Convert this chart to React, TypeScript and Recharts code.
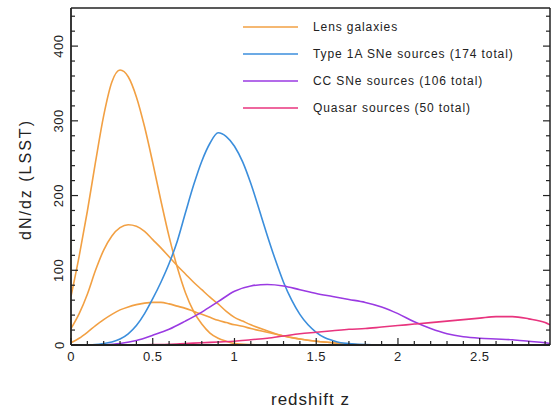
import { Legend, Line, LineChart, XAxis, YAxis } from "recharts";

// redshift grid + dN/dz values
const lensTallZ = [0, 0.05, 0.1, 0.15, 0.2, 0.25, 0.3, 0.35, 0.4, 0.45, 0.5, 0.55, 0.6, 0.65, 0.7, 0.75, 0.8, 0.85, 0.9, 0.95, 1.0, 1.1, 1.2];
const lensTallN = [65, 119, 179, 245, 307, 352, 368, 359, 332, 292, 244, 193, 145, 104, 70, 45, 28, 16, 9, 5, 2, 0.5, 0];

const lensZ = [0, 0.05, 0.1, 0.15, 0.2, 0.25, 0.3, 0.35, 0.4, 0.45, 0.5, 0.55, 0.6, 0.65, 0.7, 0.75, 0.8, 0.85, 0.9, 0.95, 1.0, 1.05, 1.1, 1.2, 1.3, 1.4, 1.5, 1.6, 1.7, 1.8];
const lensMidN = [22, 42, 68, 100, 127, 146, 157, 161, 159, 152, 141, 130, 118, 106, 95, 84, 74, 64, 55, 45, 37, 32, 27, 19, 12, 8, 5, 3, 1, 0];
const lensLowN = [3, 9, 17, 26, 34, 41, 47, 51, 54, 56, 57, 57, 55, 52, 49, 45, 41, 37, 33, 30, 27, 25, 22, 17, 12, 8, 5, 3, 1, 0];

const snIaZ = [0.1, 0.15, 0.2, 0.25, 0.3, 0.35, 0.4, 0.45, 0.5, 0.55, 0.6, 0.65, 0.7, 0.75, 0.8, 0.85, 0.9, 0.95, 1.0, 1.05, 1.1, 1.15, 1.2, 1.25, 1.3, 1.35, 1.4, 1.45, 1.5, 1.55, 1.6, 1.65, 1.7, 1.8, 1.9];
const snIaN = [0, 0.5, 2, 4, 8, 15, 26, 42, 62, 84, 109, 139, 177, 214, 246, 270, 284, 279, 266, 245, 216, 182, 147, 114, 84, 60, 41, 27, 17, 10, 6, 3, 2, 0.5, 0];

const ccZ = [0.2, 0.3, 0.4, 0.5, 0.6, 0.7, 0.8, 0.9, 1.0, 1.1, 1.2, 1.3, 1.4, 1.5, 1.6, 1.7, 1.8, 1.9, 2.0, 2.1, 2.2, 2.3, 2.4, 2.5, 2.6, 2.7, 2.8, 2.9, 2.93];
const ccN = [0, 2, 6, 13, 21, 32, 44, 58, 72, 79, 81, 79, 74, 69, 65, 61, 57, 51, 42, 31, 22, 15, 11, 9, 8, 7, 5, 3, 2];

const qsoZ = [0.4, 0.5, 0.6, 0.7, 0.8, 0.9, 1.0, 1.1, 1.2, 1.3, 1.4, 1.5, 1.6, 1.7, 1.8, 1.9, 2.0, 2.1, 2.2, 2.3, 2.4, 2.5, 2.6, 2.7, 2.8, 2.9, 2.93];
const qsoN = [0, 0.5, 1, 2, 3, 4, 5, 7, 9, 12, 15, 17, 19, 21, 22, 24, 26, 28, 30, 32, 34, 36, 38, 38, 35, 30, 27];

const xTicks = [0, 0.1, 0.2, 0.3, 0.4, 0.5, 0.6, 0.7, 0.8, 0.9, 1, 1.1, 1.2, 1.3, 1.4, 1.5, 1.6, 1.7, 1.8, 1.9, 2, 2.1, 2.2, 2.3, 2.4, 2.5, 2.6, 2.7, 2.8, 2.9];
const yTicks = [0, 20, 40, 60, 80, 100, 120, 140, 160, 180, 200, 220, 240, 260, 280, 300, 320, 340, 360, 380, 400, 420, 440];

const legendOrder = ["Lens galaxies", "Type 1A SNe sources (174 total)", "CC SNe sources (106 total)", "Quasar sources (50 total)"];

const X_MAX = 2.93;
const Y_MAX = 451;
const INK = "#222";
const FONT = "'Liberation Sans', Arial, Helvetica, sans-serif";

const pts = (zs: number[], ns: number[]) => zs.map((z, i) => ({ z, n: ns[i] }));

const isMajor = (v: number, step: number) => Math.abs(v / step - Math.round(v / step)) < 1e-6;

const BottomTick = ({ x, y, payload }: any) => {
    const major = isMajor(payload.value, 0.5);
    return (
        <g>
            <line x1={x} x2={x} y1={y} y2={y - (major ? 7 : 4)} stroke={INK} strokeWidth={1.2} />
            {major && (
                <text x={x} y={y + 11} textAnchor="middle" dominantBaseline="central" fontSize={13} fill={INK} fontFamily={FONT} letterSpacing={0.5}>
                    {String(payload.value)}
                </text>
            )}
        </g>
    );
};

const TopTick = ({ x, y, payload }: any) => {
    const major = isMajor(payload.value, 0.5);
    return <line x1={x} x2={x} y1={y} y2={y + (major ? 7 : 4)} stroke={INK} strokeWidth={1.2} />;
};

const LeftTick = ({ x, y, payload }: any) => {
    const major = isMajor(payload.value, 100);
    const tx = x - 12;
    return (
        <g>
            <line x1={x} x2={x + (major ? 7 : 4)} y1={y} y2={y} stroke={INK} strokeWidth={1.2} />
            {major && (
                <text x={tx} y={y} transform={`rotate(-90 ${tx} ${y})`} textAnchor="middle" dominantBaseline="central" fontSize={13} fill={INK} fontFamily={FONT} letterSpacing={0.5}>
                    {String(payload.value)}
                </text>
            )}
        </g>
    );
};

const RightTick = ({ x, y, payload }: any) => {
    const major = isMajor(payload.value, 100);
    return <line x1={x} x2={x - (major ? 7 : 4)} y1={y} y2={y} stroke={INK} strokeWidth={1.2} />;
};

const XLabel = ({ viewBox }: any) => (
    <text x={viewBox.x + viewBox.width / 2} y={viewBox.y + 54} textAnchor="middle" dominantBaseline="central" fontSize={17} fill={INK} fontFamily={FONT} letterSpacing={1}>
        redshift z
    </text>
);

const YLabel = ({ viewBox }: any) => {
    const cx = viewBox.x - 6;
    const cy = viewBox.y + viewBox.height / 2 + 3;
    return (
        <text x={cx} y={cy} transform={`rotate(-90 ${cx} ${cy})`} textAnchor="middle" dominantBaseline="central" fontSize={16} fill={INK} fontFamily={FONT} letterSpacing={2}>
            dN/dz (LSST)
        </text>
    );
};

const LegendBox = ({ payload }: any) => (
    <div style={{ fontFamily: FONT }}>
        {(payload ?? [])
            .filter((p: any) => p.type !== "none" && legendOrder.includes(p.value))
            .sort((a: any, b: any) => legendOrder.indexOf(a.value) - legendOrder.indexOf(b.value))
            .map((p: any) => (
                <div key={p.value} style={{ display: "flex", alignItems: "center", height: 27 }}>
                    <svg width={55} height={4} style={{ display: "block" }}>
                        <line x1={0} x2={55} y1={2} y2={2} stroke={p.color} strokeWidth={1.6} />
                    </svg>
                    <span style={{ marginLeft: 15, fontSize: 12, color: INK, letterSpacing: 0.9, whiteSpace: "nowrap" }}>{p.value}</span>
                </div>
            ))}
    </div>
);

export default function App() {
    return (
        <div style={{ position: "absolute", left: 0, top: 0, width: 560, height: 408, background: "#fff" }}>
            <LineChart width={560} height={408} margin={{ top: 7, right: 9, left: 31, bottom: 33 }}>
                <XAxis
                    dataKey="z"
                    type="number"
                    domain={[0, X_MAX]}
                    allowDataOverflow
                    ticks={xTicks}
                    interval={0}
                    tickSize={0}
                    tickMargin={0}
                    tick={<BottomTick />}
                    height={30}
                    axisLine={{ stroke: INK, strokeWidth: 1.8 }}
                    label={<XLabel />}
                />
                <XAxis
                    xAxisId="top"
                    orientation="top"
                    type="number"
                    domain={[0, X_MAX]}
                    allowDataOverflow
                    ticks={xTicks}
                    interval={0}
                    tickSize={0}
                    tickMargin={0}
                    tick={<TopTick />}
                    height={1}
                    axisLine={{ stroke: INK, strokeWidth: 1.5 }}
                />
                <YAxis
                    type="number"
                    domain={[0, Y_MAX]}
                    allowDataOverflow
                    ticks={yTicks}
                    interval={0}
                    tickSize={0}
                    tickMargin={0}
                    tick={<LeftTick />}
                    width={40}
                    axisLine={{ stroke: INK, strokeWidth: 1.8 }}
                    label={<YLabel />}
                />
                <YAxis
                    yAxisId="right"
                    orientation="right"
                    type="number"
                    domain={[0, Y_MAX]}
                    allowDataOverflow
                    ticks={yTicks}
                    interval={0}
                    tickSize={0}
                    tickMargin={0}
                    tick={<RightTick />}
                    width={1}
                    axisLine={{ stroke: INK, strokeWidth: 1.5 }}
                />
                <Legend
                    layout="vertical"
                    align="center"
                    verticalAlign="middle"
                    content={<LegendBox />}
                    wrapperStyle={{ left: 243, top: 13.5, width: "auto" }}
                />
                <Line data={pts(lensTallZ, lensTallN)} dataKey="n" name="Lens galaxies" type="monotone" stroke="#F2A043" strokeWidth={1.6} dot={false} isAnimationActive={false} />
                <Line data={pts(lensZ, lensMidN)} dataKey="n" name="Lens galaxies (mid)" legendType="none" type="monotone" stroke="#F2A043" strokeWidth={1.6} dot={false} isAnimationActive={false} />
                <Line data={pts(lensZ, lensLowN)} dataKey="n" name="Lens galaxies (low)" legendType="none" type="monotone" stroke="#F2A043" strokeWidth={1.6} dot={false} isAnimationActive={false} />
                <Line data={pts(snIaZ, snIaN)} dataKey="n" name="Type 1A SNe sources (174 total)" type="monotone" stroke="#3B8EDC" strokeWidth={1.6} dot={false} isAnimationActive={false} />
                <Line data={pts(ccZ, ccN)} dataKey="n" name="CC SNe sources (106 total)" type="monotone" stroke="#9A3AE2" strokeWidth={1.6} dot={false} isAnimationActive={false} />
                <Line data={pts(qsoZ, qsoN)} dataKey="n" name="Quasar sources (50 total)" type="monotone" stroke="#E8347E" strokeWidth={1.6} dot={false} isAnimationActive={false} />
            </LineChart>
        </div>
    );
}
